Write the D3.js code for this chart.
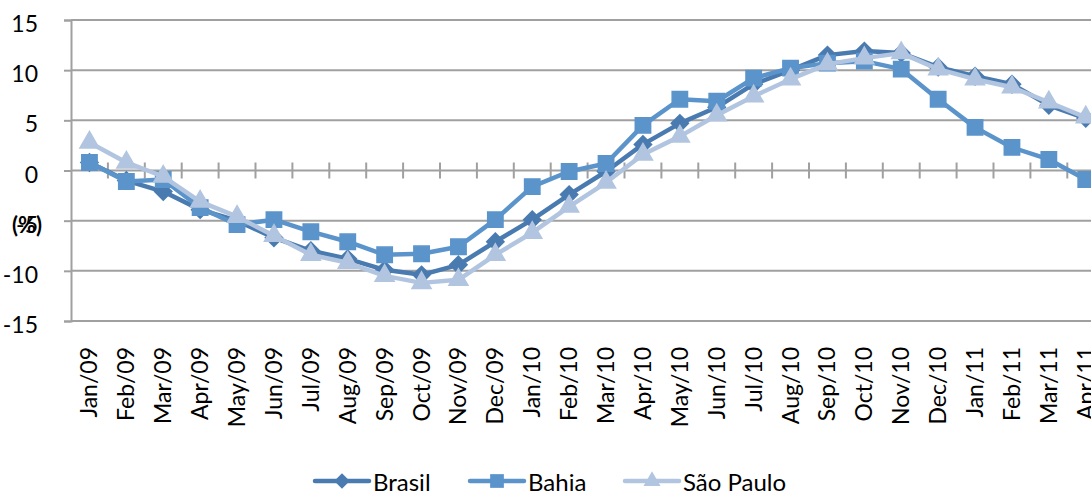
<!DOCTYPE html>
<html><head><meta charset="utf-8">
<script src="https://cdn.jsdelivr.net/npm/d3@7"></script>
<style>body{margin:0;background:#fff}svg{display:block}text{font-family:Lato,"Open Sans",sans-serif;fill:#000}</style>
</head><body><svg id="c" width="1091" height="495"></svg>
<script>
const categories = ["Jan/09","Feb/09","Mar/09","Apr/09","May/09","Jun/09","Jul/09","Aug/09","Sep/09","Oct/09","Nov/09","Dec/09","Jan/10","Feb/10","Mar/10","Apr/10","May/10","Jun/10","Jul/10","Aug/10","Sep/10","Oct/10","Nov/10","Dec/10","Jan/11","Feb/11","Mar/11","Apr/11"];
const brasil = [0.8,-1.0,-2.1,-3.9,-5.0,-6.7,-8.0,-8.8,-9.9,-10.4,-9.4,-7.1,-4.9,-2.4,-0.1,2.6,4.7,6.3,8.6,10.0,11.5,11.9,11.7,10.3,9.4,8.6,6.5,5.2];
const bahia = [0.8,-1.1,-0.9,-3.7,-5.4,-4.9,-6.1,-7.1,-8.4,-8.3,-7.6,-4.9,-1.6,-0.1,0.7,4.5,7.1,6.9,9.2,10.2,10.7,10.9,10.1,7.1,4.3,2.3,1.1,-0.9];
const saoPaulo = [2.8,0.8,-0.6,-3.1,-4.6,-6.5,-8.4,-9.2,-10.5,-11.2,-10.9,-8.4,-6.2,-3.6,-1.2,1.6,3.4,5.5,7.4,9.1,10.6,11.2,11.7,10.1,9.1,8.3,6.8,5.3];
const yTicks = [-15,-10,-5,0,5,10,15];
const seriesNames = ["Brasil","Bahia","São Paulo"];
const seriesColors = ["#4a7bb0","#5b94cb","#b2c5e0"];
const seriesSymbols = [d3.symbolDiamond2, d3.symbolSquare2, d3.symbolTriangle2];

const svg = d3.select("#c");
const L = 71, T = 20, B = 321, bw = 36.9;
const x = d3.scaleBand().domain(categories).range([L, L + bw*categories.length]).paddingInner(0).paddingOuter(0);
const y = d3.scaleLinear().domain([-15,15]).range([B,T]);
const grid = "#a0a0a0";

// gridlines
svg.append("g").selectAll("line").data(yTicks).join("line")
  .attr("x1", L).attr("x2", 1091).attr("y1", d=>y(d)).attr("y2", d=>y(d))
  .attr("stroke", grid).attr("stroke-width", 2);
// y axis
const ya = svg.append("g").attr("transform",`translate(${L},0)`)
  .call(d3.axisLeft(y).tickValues(yTicks).tickSize(7).tickPadding(26).tickFormat(d => String(d)));
ya.select(".domain").attr("stroke", grid).attr("stroke-width",2);
ya.selectAll(".tick line").attr("stroke", grid).attr("stroke-width",2);
ya.selectAll(".tick text").attr("font-size",23).attr("font-family","Lato").attr("dy","0.5em").attr("fill","#000");

// category ticks crossing zero line
const bounds = d3.range(1, categories.length+1).map(i => L + i*bw);
svg.append("g").selectAll("line").data(bounds).join("line")
  .attr("x1", d=>d).attr("x2", d=>d).attr("y1", y(0)-8).attr("y2", y(0)+8)
  .attr("stroke", grid).attr("stroke-width", 2);

// x labels
svg.append("g").selectAll("text").data(categories).join("text")
  .attr("transform", d=>`translate(${x(d)+x.bandwidth()/2+8},347) rotate(-90)`)
  .attr("text-anchor","end").attr("font-size",23).text(d=>d);

// y title
svg.append("text").attr("x",27).attr("y",233).attr("text-anchor","middle")
  .attr("font-size",22).attr("font-weight","bold").text("(%)");

// series
const allSeries = [brasil, bahia, saoPaulo];
const line = d3.line().x((d,i)=>x(categories[i])+x.bandwidth()/2).y(d=>y(d));
const sizes = [190, 300, 260];
allSeries.forEach((vals, k) => {
  const g = svg.append("g");
  g.append("path").datum(vals).attr("d", line).attr("fill","none")
    .attr("stroke", seriesColors[k]).attr("stroke-width",4.5).attr("stroke-linejoin","round");
  g.selectAll("path.m").data(vals).join("path").attr("class","m")
    .attr("transform",(d,i)=>`translate(${x(categories[i])+x.bandwidth()/2},${y(d)})`)
    .attr("d", d3.symbol().type(seriesSymbols[k]).size(sizes[k]))
    .attr("fill", seriesColors[k]).attr("stroke", seriesColors[k]).attr("stroke-width",1.5);
});

// legend
const legX = [315, 470, 625];
seriesNames.forEach((n,k)=>{
  const g = svg.append("g").attr("transform",`translate(${legX[k]},481)`);
  g.append("line").attr("x1",0).attr("x2",54).attr("stroke",seriesColors[k]).attr("stroke-width",4.5).attr("stroke-linecap","round");
  g.append("path").attr("transform","translate(27,0)").attr("d", d3.symbol().type(seriesSymbols[k]).size(sizes[k]*0.8))
    .attr("fill",seriesColors[k]);
  g.append("text").attr("x",58).attr("y",10).attr("font-size",24).text(n);
});
</script></body></html>
